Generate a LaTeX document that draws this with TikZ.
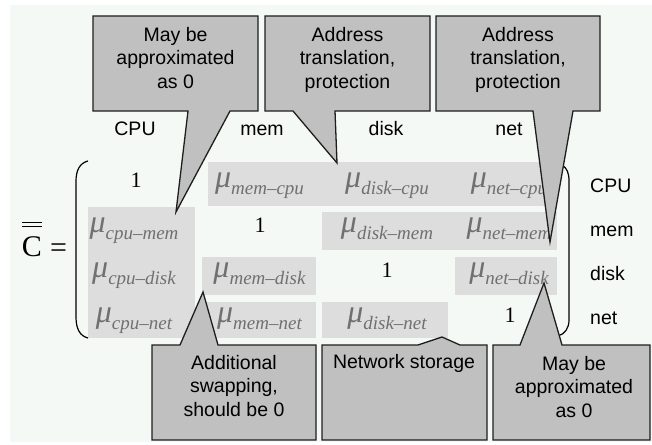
\documentclass[tikz,border=0pt]{standalone}
\usepackage{fontspec}
\setmainfont{Liberation Serif}
\newfontfamily\lsans{Liberation Sans}
\newfontfamily\lserif{Liberation Serif}

\definecolor{bgtint}{RGB}{245,249,245}
\definecolor{cellgrey}{RGB}{221,221,221}
\definecolor{mugrey}{RGB}{112,112,112}
\definecolor{bubblefill}{RGB}{192,192,192}
\definecolor{bubbleedge}{RGB}{30,30,30}

% mu with a lowered italic subscript
\newcommand{\mucell}[1]{{\fontsize{32}{32}\selectfont\itshape μ}\raisebox{-7pt}{\fontsize{19}{19}\selectfont\itshape #1}}

\tikzset{
  cellbox/.style={fill=cellgrey, draw=none},
  mutext/.style={anchor=base, inner sep=0pt, text=mugrey, font=\lserif},
  onetext/.style={anchor=base, inner sep=0pt, text=black, font=\lserif\fontsize{22}{22}\selectfont},
  headtext/.style={anchor=base, inner sep=0pt, font=\lsans\fontsize{19.5}{23.5}\selectfont},
  bubble/.style={fill=bubblefill, draw=bubbleedge, line width=1.3pt, line join=miter},
  bubbletext/.style={anchor=base, inner sep=0pt, align=center, font=\lsans\fontsize{19.5}{23.5}\selectfont},
  parenline/.style={draw=black, line width=1.2pt},
}

\begin{document}
\begin{tikzpicture}[x=1pt, y=-1pt]
\useasboundingbox (0,0) rectangle (652,444);
\fill[white] (0,0) rectangle (652,444);
\fill[bgtint] (10,5) rectangle (652,442);

% shaded cells of the matrix
\fill[cellbox] (208,162) rectangle (557,206);
\fill[cellbox] (88,207) rectangle (195,338);
\fill[cellbox] (322,212) rectangle (557,250);
\fill[cellbox] (202,257) rectangle (316,295);
\fill[cellbox] (455,257) rectangle (557,295);
\fill[cellbox] (202,302) rectangle (316,338);
\fill[cellbox] (322,302) rectangle (448,338);

% left-hand side: C with a double bar
\node[anchor=base, inner sep=0pt, font=\lserif\fontsize{30}{30}\selectfont] (cname) at (32,256) {C};
\draw[line width=0.9pt] (22,222) -- (42,222) (22,226) -- (42,226);
\node[anchor=base, inner sep=0pt, font=\lserif\fontsize{30}{30}\selectfont] (eqsign) at (58.5,257) {=};

% brackets
\draw[parenline] (88,161) .. controls (80,163) and (76,170) .. (76,181) -- (76,317) .. controls (76,329) and (80,336) .. (88,338);
\draw[parenline] (562,165) .. controls (567,168) and (569,173) .. (569,181) -- (569,320) .. controls (569,328) and (565,334) .. (558,336);

% column headers
\node[headtext] (hcpu)  at (135,135) {CPU};
\node[headtext] (hmem)  at (262,135) {mem};
\node[headtext] (hdisk) at (386,135) {disk};
\node[headtext] (hnet)  at (509,135) {net};

% row headers
\node[headtext, anchor=base west] (rcpu)  at (590,192) {CPU};
\node[headtext, anchor=base west] (rmem)  at (590,236) {mem};
\node[headtext, anchor=base west] (rdisk) at (590,280) {disk};
\node[headtext, anchor=base west] (rnet)  at (590,324) {net};

% diagonal
\node[onetext] (d11) at (136,187) {1};
\node[onetext] (d22) at (260,232) {1};
\node[onetext] (d33) at (387,277) {1};
\node[onetext] (d44) at (510,322) {1};

% off-diagonal entries
\node[mutext] (m12) at (259.5,187) {\mucell{mem–cpu}};
\node[mutext] (m13) at (387,187)   {\mucell{disk–cpu}};
\node[mutext] (m14) at (509,187)   {\mucell{net–cpu}};
\node[mutext] (m21) at (134,232)   {\mucell{cpu–mem}};
\node[mutext] (m23) at (387,232)   {\mucell{disk–mem}};
\node[mutext] (m24) at (509,232)   {\mucell{net–mem}};
\node[mutext] (m31) at (134,277)   {\mucell{cpu–disk}};
\node[mutext] (m32) at (259.5,277) {\mucell{mem–disk}};
\node[mutext] (m34) at (509,277)   {\mucell{net–disk}};
\node[mutext] (m41) at (134,322)   {\mucell{cpu–net}};
\node[mutext] (m42) at (259.5,322) {\mucell{mem–net}};
\node[mutext] (m43) at (387,322)   {\mucell{disk–net}};

% callouts above the matrix (text anchored on the baseline of its last line)
\draw[bubble] (93,16) -- (258,16) -- (258,111) -- (230,111) -- (176,212) -- (188,111) -- (93,111) -- cycle;
\node[bubbletext] (c1) at (175.5,88) {May be\\approximated\\as 0};

\draw[bubble] (265,16) -- (430,16) -- (430,111) -- (335,111) -- (337,163) -- (293,111) -- (265,111) -- cycle;
\node[bubbletext] (c2) at (347.5,88) {Address\\translation,\\protection};

\draw[bubble] (436,16) -- (600,16) -- (600,111) -- (573,111) -- (550,242) -- (533,111) -- (436,111) -- cycle;
\node[bubbletext] (c3) at (518,88) {Address\\translation,\\protection};

% callouts below the matrix
\draw[bubble] (152,345) -- (180,345) -- (203,292) -- (218,345) -- (316,345) -- (316,440) -- (152,440) -- cycle;
\node[bubbletext] (c4) at (234,416) {Additional\\swapping,\\should be 0};

\draw[bubble] (322,345) -- (418,345) -- (442,337) -- (460,345) -- (487,345) -- (487,440) -- (322,440) -- cycle;
\node[bubbletext] (c5) at (404,368) {Network storage};

\draw[bubble] (493,345) -- (520,345) -- (544,283) -- (562,345) -- (650,345) -- (650,440) -- (493,440) -- cycle;
\node[bubbletext] (c6) at (574,417) {May be\\approximated\\as 0};
\end{tikzpicture}
\end{document}
